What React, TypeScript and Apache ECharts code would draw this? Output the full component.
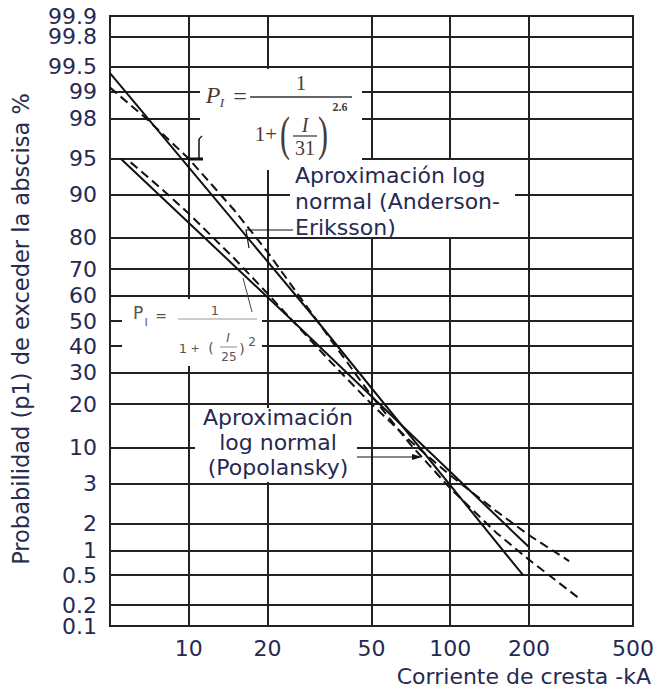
import React, { useEffect, useRef } from 'react';
import * as echarts from 'echarts';

// ---- Axis ticks ----
const xMin = 5;
const xMax = 500;
const xTickValues = [10, 20, 50, 100, 200, 500];
const yMinProb = 0.1;
const yMaxProb = 99.9;
const yTickProbs = [0.1, 0.2, 0.5, 1, 2, 5, 10, 20, 30, 40, 50, 60, 70, 80, 90, 95, 98, 99, 99.5, 99.8, 99.9];
const yTickLabels = ['0.1', '0.2', '0.5', '1', '2', '3', '10', '20', '30', '40', '50', '60', '70', '80', '90', '95', '98', '99', '99.5', '99.8', '99.9'];

// ---- Curves (I in kA, P in %) ----
const aeFormulaI = [5, 7, 10, 15, 20, 31, 50, 70, 100, 150, 200, 310];
const aeFormulaP = [99.1, 97.9, 95.0, 86.8, 75.8, 50, 22.4, 10.7, 4.5, 1.6, 0.78, 0.25];

const popFormulaI = [6, 8, 10, 15, 20, 25, 35, 50, 70, 100, 150, 200, 285];
const popFormulaP = [94.6, 90.7, 86.2, 73.5, 61.0, 50, 33.8, 20, 11.3, 5.9, 2.7, 1.5, 0.75];

const aeLogI = [5, 31, 190];
const aeLogP = [99.4, 50, 0.5];

const popLogI = [5.5, 25, 200];
const popLogP = [95, 50, 1.1];

// probability-paper transform (inverse normal CDF, Acklam)
function normInv(p: number): number {
  const a = [-3.969683028665376e1, 2.209460984245205e2, -2.759285104469687e2, 1.38357751867269e2, -3.066479806614716e1, 2.506628277459239];
  const b = [-5.447609879822406e1, 1.615858368580409e2, -1.556989798598866e2, 6.680131188771972e1, -1.328068155288572e1];
  const c = [-7.784894002430293e-3, -3.223964580411365e-1, -2.400758277161838, -2.549732539343734, 4.374664141464968, 2.938163982698783];
  const d = [7.784695709041462e-3, 3.224671290700398e-1, 2.445134137142996, 3.754408661907416];
  const pl = 0.02425;
  const ph = 1 - pl;
  if (p < pl) {
    const q = Math.sqrt(-2 * Math.log(p));
    return (((((c[0] * q + c[1]) * q + c[2]) * q + c[3]) * q + c[4]) * q + c[5]) / ((((d[0] * q + d[1]) * q + d[2]) * q + d[3]) * q + 1);
  }
  if (p <= ph) {
    const q = p - 0.5;
    const r = q * q;
    return ((((((a[0] * r + a[1]) * r + a[2]) * r + a[3]) * r + a[4]) * r + a[5]) * q) / (((((b[0] * r + b[1]) * r + b[2]) * r + b[3]) * r + b[4]) * r + 1);
  }
  const q = Math.sqrt(-2 * Math.log(1 - p));
  return -(((((c[0] * q + c[1]) * q + c[2]) * q + c[3]) * q + c[4]) * q + c[5]) / ((((d[0] * q + d[1]) * q + d[2]) * q + d[3]) * q + 1);
}
const pz = (pct: number) => normInv(pct / 100);
const lx = (v: number) => Math.log10(v);

const toData = (xs: number[], ps: number[]) => xs.map((x, i) => [lx(x), pz(ps[i])]);

const TEXT = '#262a52';
const FONT = 'DejaVu Sans, Verdana, sans-serif';
const SERIF = 'Liberation Serif, DejaVu Serif, serif';
const F1 = '#4a3a36';
const F2 = '#555555';

export default function App() {
  const ref = useRef<HTMLDivElement>(null);
  useEffect(() => {
    if (!ref.current) return;
    const chart = echarts.init(ref.current, undefined, { renderer: 'svg' });
    const yZ = yTickProbs.map(pz);
    const zMin = pz(yMinProb);
    const zMax = pz(yMaxProb);
    const yInner = yZ.filter((z) => z > zMin + 1e-9 && z < zMax - 1e-9);
    const yEnds = [zMin, zMax];
    const xL = xTickValues.map(lx);
    const yFmt = (v: number) => {
      const i = yZ.findIndex((z) => Math.abs(z - v) < 1e-6);
      return i >= 0 ? yTickLabels[i] : '';
    };

    const text = (x: number, y: number, t: string, o: any = {}) => ({
      type: 'text',
      z: 5,
      x,
      y,
      scaleX: o.sx || 1,
      scaleY: o.sy || 1,
      style: {
        text: t,
        fill: o.fill || TEXT,
        font: o.font || `22px ${FONT}`,
        align: o.align || 'left',
        verticalAlign: o.va || 'middle',
        lineHeight: o.lh,
      },
      rotation: o.rotation || 0,
    });
    const rect = (x: number, y: number, w: number, h: number) => ({
      type: 'rect',
      z: 1,
      shape: { x, y, width: w, height: h },
      style: { fill: '#ffffff' },
    });
    const seg = (x1: number, y1: number, x2: number, y2: number, w = 1.2, col = '#111') => ({
      type: 'line',
      z: 5,
      shape: { x1, y1, x2, y2 },
      style: { stroke: col, lineWidth: w },
    });

    const lineSeries = (name: string, data: number[][], dashed: boolean) => ({
      name,
      type: 'line',
      data,
      yAxisIndex: 0,
      showSymbol: false,
      symbol: 'none',
      smooth: false,
      z: 4,
      lineStyle: { color: '#111', width: 2, type: dashed ? [9, 5] : 'solid' },
    });

    const yLabelStyle = {
      showMinLabel: true,
      showMaxLabel: true,
      hideOverlap: false,
      margin: 13,
      fontSize: 22,
      fontFamily: FONT,
      color: TEXT,
      formatter: yFmt,
    };

    chart.setOption({
      animation: false,
      backgroundColor: '#ffffff',
      grid: {
        left: 110,
        right: 26,
        top: 16,
        bottom: 61,
        show: true,
        borderColor: '#222',
        borderWidth: 2,
        outerBoundsMode: 'none',
        containLabel: false,
      },
      xAxis: {
        type: 'value',
        min: lx(xMin),
        max: lx(xMax),
        axisLine: { show: false },
        axisTick: { show: false, customValues: xL },
        axisLabel: {
          customValues: xL,
          showMinLabel: true,
          showMaxLabel: true,
          hideOverlap: false,
          margin: 11,
          fontSize: 22,
          fontFamily: FONT,
          color: TEXT,
          formatter: (v: number) => String(Math.round(Math.pow(10, v))),
        },
        splitLine: { show: true, lineStyle: { color: '#222', width: 2 } },
      },
      yAxis: [
        {
          type: 'value',
          position: 'left',
          min: zMin,
          max: zMax,
          axisLine: { show: false },
          axisTick: { show: false, customValues: yInner },
          axisLabel: { ...yLabelStyle, customValues: yInner },
          splitLine: { show: true, lineStyle: { color: '#222', width: 2 } },
        },
        {
          type: 'value',
          position: 'left',
          offset: 0,
          min: zMin,
          max: zMax,
          axisLine: { show: false },
          axisTick: { show: false, customValues: yEnds },
          axisLabel: { ...yLabelStyle, customValues: yEnds },
          splitLine: { show: false },
        },
      ],
      series: [
        lineSeries('AE formula', toData(aeFormulaI, aeFormulaP), true),
        lineSeries('Popolansky formula', toData(popFormulaI, popFormulaP), true),
        lineSeries('AE log normal', toData(aeLogI, aeLogP), false),
        lineSeries('Popolansky log normal', toData(popLogI, popLogP), false),
      ],
      graphic: [
        // white annotation backgrounds
        rect(200, 69, 162, 101),
        rect(290, 160, 225, 77),
        rect(122, 299, 140, 67),
        rect(195, 408, 162, 74),
        // formula 1
        text(213, 95, 'P', { font: `italic 24px ${SERIF}`, fill: F1, align: 'center' }),
        text(222, 102, 'I', { font: `italic 13px ${SERIF}`, fill: F1, align: 'center' }),
        text(240, 96, '=', { font: `24px ${SERIF}`, fill: F1, align: 'center' }),
        seg(250, 97, 352, 97, 1.5, '#333'),
        text(301, 83, '1', { font: `21px ${SERIF}`, fill: F1, align: 'center' }),
        text(266, 134, '1+', { font: `21px ${SERIF}`, fill: F1, align: 'center' }),
        text(285, 134, '(', { font: `30px ${SERIF}`, fill: F1, align: 'center', sy: 1.6 }),
        text(323, 134, ')', { font: `30px ${SERIF}`, fill: F1, align: 'center', sy: 1.6 }),
        text(305, 125, 'I', { font: `italic 20px ${SERIF}`, fill: F1, align: 'center' }),
        seg(293, 136, 317, 136, 1.2, '#333'),
        text(305, 148, '31', { font: `20px ${SERIF}`, fill: F1, align: 'center' }),
        text(340, 107, '2.6', { font: `bold 12px ${SERIF}`, fill: F1, align: 'center' }),
        seg(199, 139, 199, 158, 1.5),
        seg(199, 139, 202, 136, 1.2),
        seg(188, 159, 203, 159, 3),
        // Anderson-Eriksson label
        text(295, 162, 'Aproximación log\nnormal (Anderson-\nEriksson)', { va: 'top', lh: 26 }),
        { type: 'polyline', z: 5, shape: { points: [[293, 230], [246, 230], [249, 248]] }, style: { stroke: '#111', lineWidth: 1.2, fill: null } },
        // formula 2
        text(138, 313, 'P', { font: `17px ${FONT}`, fill: F2, align: 'center' }),
        text(146, 322, 'I', { font: `11px ${FONT}`, fill: F2, align: 'center' }),
        text(161, 316, '=', { font: `14px ${FONT}`, fill: F2, align: 'center' }),
        seg(178, 319, 257, 319, 1, '#999'),
        text(215, 310, '1', { font: `13px ${FONT}`, fill: F2, align: 'center' }),
        text(183, 348, '1', { font: `13px ${FONT}`, fill: F2, align: 'center' }),
        text(195, 348, '+', { font: `11px ${FONT}`, fill: F2, align: 'center' }),
        text(211, 348, '(', { font: `14px ${FONT}`, fill: F2, align: 'center' }),
        text(228, 338, 'I', { font: `italic 12px ${FONT}`, fill: F2, align: 'center' }),
        seg(220, 347, 237, 347, 1, '#888'),
        text(229, 357, '25', { font: `12px ${FONT}`, fill: F2, align: 'center' }),
        text(242, 349, ')', { font: `14px ${FONT}`, fill: F2, align: 'center' }),
        text(252, 342, '2', { font: `12px ${FONT}`, fill: F2, align: 'center' }),
        seg(252, 312, 243, 278, 1, '#444'),
        // Popolansky label
        text(278, 405, 'Aproximación\nlog normal\n(Popolansky)', { va: 'top', lh: 25, align: 'center' }),
        seg(357, 457, 419, 457, 1.2),
        { type: 'polygon', z: 5, shape: { points: [[422, 457], [412, 454], [412, 460]] }, style: { fill: '#111' } },
        // axis titles
        text(651, 676, 'Corriente de cresta -kA', { font: `22px ${FONT}`, align: 'right' }),
        text(21, 329, 'Probabilidad (p1) de exceder la abscisa %', { font: `22.5px ${FONT}`, align: 'center', rotation: Math.PI / 2 }),
      ],
    });
    return () => chart.dispose();
  }, []);
  return <div ref={ref} style={{ position: 'fixed', left: 0, top: 0, width: 659, height: 687, background: '#fff' }} />;
}
